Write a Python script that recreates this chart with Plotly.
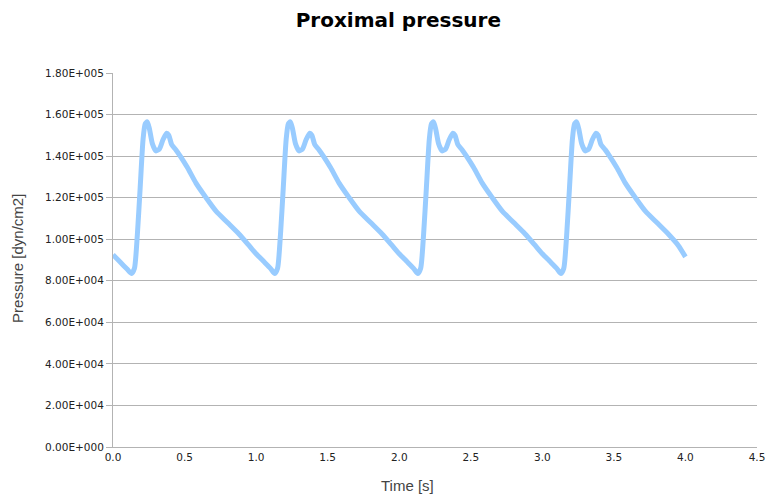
import plotly.graph_objects as go

# Time [s] and pressure [dyn/cm2]
time_s = [
    0.00, 0.05, 0.10, 0.13, 0.15, 0.17, 0.19, 0.21, 0.225, 0.24, 0.255, 0.275, 0.30, 0.325, 0.35, 0.375, 0.39, 0.41, 0.44, 0.47, 0.52, 0.58, 0.65, 0.72, 0.80, 0.88, 0.95,
    1.00, 1.05, 1.10, 1.13, 1.15, 1.17, 1.19, 1.21, 1.225, 1.24, 1.255, 1.275, 1.30, 1.325, 1.35, 1.375, 1.39, 1.41, 1.44, 1.47, 1.52, 1.58, 1.65, 1.72, 1.80, 1.88, 1.95,
    2.00, 2.05, 2.10, 2.13, 2.15, 2.17, 2.19, 2.21, 2.225, 2.24, 2.255, 2.275, 2.30, 2.325, 2.35, 2.375, 2.39, 2.41, 2.44, 2.47, 2.52, 2.58, 2.65, 2.72, 2.80, 2.88, 2.95,
    3.00, 3.05, 3.10, 3.13, 3.15, 3.17, 3.19, 3.21, 3.225, 3.24, 3.255, 3.275, 3.30, 3.325, 3.35, 3.375, 3.39, 3.41, 3.44, 3.47, 3.52, 3.58, 3.65, 3.72, 3.80, 3.88, 3.95,
    4.00,
]
pressure = [
    92500, 89000, 85500, 83500, 86000, 102000, 125000, 148000, 155500, 156500, 153000, 146000, 142500, 143500, 148000, 151000, 150000, 145500, 143000, 140000, 134500, 127000, 120000, 113500, 108000, 102500, 97000,
    93000, 89500, 86000, 83500, 86000, 102000, 125000, 148000, 155500, 156500, 153000, 146000, 142500, 143500, 148000, 151000, 150000, 145500, 143000, 140000, 134500, 127000, 120000, 113500, 108000, 102500, 97000,
    93000, 89500, 86000, 83500, 86000, 102000, 125000, 148000, 155500, 156500, 153000, 146000, 142500, 143500, 148000, 151000, 150000, 145500, 143000, 140000, 134500, 127000, 120000, 113500, 108000, 102500, 97000,
    93000, 89500, 86000, 83500, 86000, 102000, 125000, 148000, 155500, 156500, 153000, 146000, 142500, 143500, 148000, 151000, 150000, 145500, 143000, 140000, 134500, 127000, 120000, 113500, 108000, 102500, 97000,
    91500,
]

y_tick_vals = [0, 20000, 40000, 60000, 80000, 100000, 120000, 140000, 160000, 180000]
y_tick_text = ["0.00E+000", "2.00E+004", "4.00E+004", "6.00E+004", "8.00E+004",
               "1.00E+005", "1.20E+005", "1.40E+005", "1.60E+005", "1.80E+005"]
x_tick_vals = [0.0, 0.5, 1.0, 1.5, 2.0, 2.5, 3.0, 3.5, 4.0, 4.5]
x_tick_text = ["0.0", "0.5", "1.0", "1.5", "2.0", "2.5", "3.0", "3.5", "4.0", "4.5"]

fig = go.Figure()
fig.add_trace(go.Scatter(
    x=time_s, y=pressure, mode="lines",
    line=dict(color="#99ccff", width=5, shape="spline", smoothing=0.6),
    showlegend=False, hoverinfo="x+y",
))

fig.update_layout(
    width=769, height=497,
    margin=dict(l=113, r=12, t=73, b=50, autoexpand=False),
    paper_bgcolor="white", plot_bgcolor="white",
    title=dict(text="<b>Proximal pressure</b>", x=0.518, xref="container", xanchor="center",
               y=0.96, yref="container", yanchor="middle",
               font=dict(family="DejaVu Sans", size=20, color="black")),
    xaxis=dict(
        range=[0, 4.5], tickvals=x_tick_vals, ticktext=x_tick_text, automargin=False,
        showgrid=False, zeroline=False, showline=True, linecolor="#b3b3b3", linewidth=1,
        ticks="", tickfont=dict(family="DejaVu Sans", size=10.5, color="#222222"),
    ),
    yaxis=dict(
        range=[0, 180000], tickvals=y_tick_vals, ticktext=y_tick_text, automargin=False,
        showgrid=True, gridcolor="#b3b3b3", gridwidth=1, zeroline=False,
        showline=True, linecolor="#b3b3b3", linewidth=1,
        ticks="outside", ticklen=6, tickcolor="#b3b3b3",
        tickfont=dict(family="DejaVu Sans", size=10.5, color="#222222"),
    ),
    annotations=[
        dict(text="Time [s]", xref="paper", yref="paper", x=0.458, y=-0.104,
             xanchor="center", yanchor="middle", showarrow=False,
             font=dict(family="Liberation Sans", size=15, color="#444444")),
        dict(text="Pressure [dyn/cm2]", xref="paper", yref="paper", x=-0.1475, y=0.503,
             xanchor="center", yanchor="middle", textangle=-90, showarrow=False,
             font=dict(family="Liberation Sans", size=15, color="#444444")),
    ],
)

fig.write_html("out.html", config={"displayModeBar": False},
               post_script="document.body.style.margin='0';document.body.style.overflow='hidden';")
